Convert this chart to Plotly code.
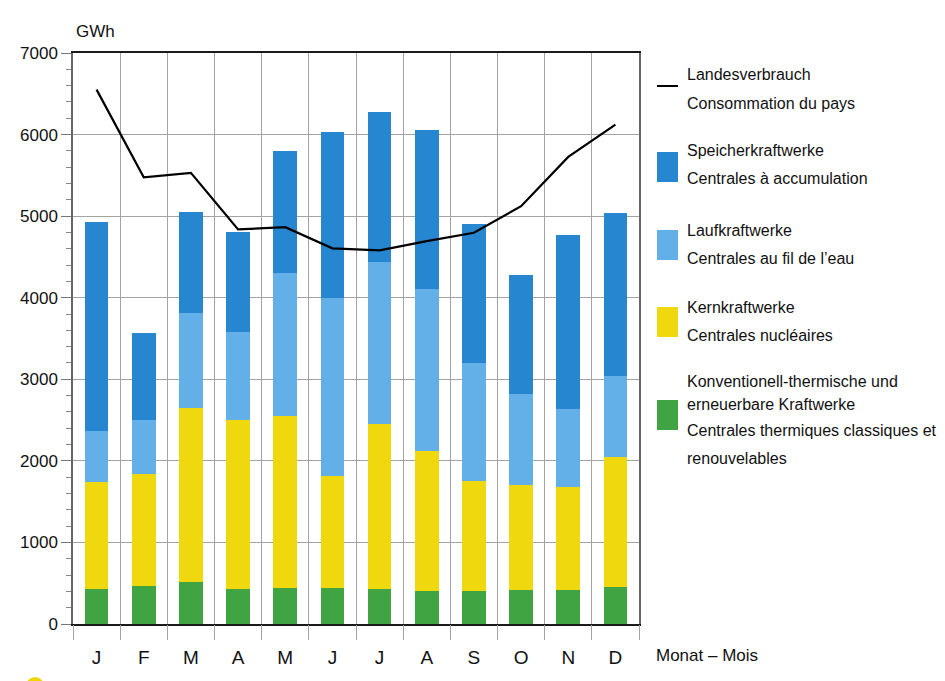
import plotly.graph_objects as go

# ---------------- data ----------------
months = ["J", "F", "M", "A", "M", "J", "J", "A", "S", "O", "N", "D"]
thermal = [431, 463, 520, 431, 447, 443, 431, 410, 410, 422, 422, 459]
nuclear = [1305, 1375, 2134, 2068, 2105, 1371, 2019, 1714, 1342, 1285, 1252, 1583]
run_of_river = [624, 669, 1163, 1081, 1750, 2179, 1983, 1982, 1453, 1114, 967, 1000]
storage = [2571, 1057, 1236, 1228, 1498, 2039, 1848, 1947, 1701, 1453, 2123, 1991]
consumption = [6551, 5477, 5530, 4837, 4865, 4605, 4580, 4694, 4796, 5122, 5726, 6122]

y_ticks = [0, 1000, 2000, 3000, 4000, 5000, 6000, 7000]
y_unit = "GWh"
x_title = "Monat – Mois"

legend_consumption = ["Landesverbrauch", "Consommation du pays"]
legend_storage = ["Speicherkraftwerke", "Centrales à accumulation"]
legend_run = ["Laufkraftwerke", "Centrales au fil de l’eau"]
legend_nuclear = ["Kernkraftwerke", "Centrales nucléaires"]
legend_thermal = ["Konventionell-thermische und", "erneuerbare Kraftwerke",
                  "Centrales thermiques classiques et", "renouvelables"]

# ---------------- style ----------------
C_STORAGE = "#2686cf"
C_RUN = "#62b0e7"
C_NUCLEAR = "#f0d80f"
C_THERMAL = "#41a443"
C_GRID = "#a3a3a3"
FONT = "Liberation Sans, Arial, sans-serif"
FS = 16

W, H = 945, 681
ML, MR, MT, MB = 73, 306, 53, 57
PW, PH = W - ML - MR, H - MT - MB


def px(x):
    return (x - ML) / PW


def py(y):
    return (H - MB - y) / PH


xs = list(range(len(months)))

fig = go.Figure()
for name, vals, col in [("thermal", thermal, C_THERMAL),
                        ("nuclear", nuclear, C_NUCLEAR),
                        ("run", run_of_river, C_RUN),
                        ("storage", storage, C_STORAGE)]:
    fig.add_trace(go.Bar(x=xs, y=vals, name=name, marker=dict(color=col, line_width=0),
                         width=0.5, showlegend=False))

fig.add_trace(go.Scatter(x=xs, y=consumption, mode="lines",
                         line=dict(color="black", width=2.2), showlegend=False))

# helper trace for the boundary axis
fig.add_trace(go.Scatter(x=[-0.5, 11.5], y=[0, 0], xaxis="x2", mode="lines",
                         line=dict(width=0, color="rgba(0,0,0,0)"),
                         hoverinfo="skip", showlegend=False))

boundaries = [i - 0.5 for i in range(len(months) + 1)]

fig.update_layout(
    width=W, height=H,
    margin=dict(l=ML, r=MR, t=MT, b=MB),
    paper_bgcolor="white", plot_bgcolor="white",
    barmode="stack",
    font=dict(family=FONT, size=FS, color="#111"),
    xaxis=dict(range=[-0.5, 11.5], tickvals=xs, ticktext=months,
               showgrid=False, zeroline=False,
               ticks="outside", ticklen=15, tickcolor="rgba(0,0,0,0)",
               showline=True, linecolor="#1a1a1a", linewidth=2, mirror=True,
               tickfont=dict(size=19)),
    xaxis2=dict(range=[-0.5, 11.5], overlaying="x", side="bottom", anchor="y",
                tickvals=boundaries, showticklabels=False,
                showgrid=True, gridcolor=C_GRID, gridwidth=1.3,
                ticks="outside", ticklen=15, tickcolor=C_GRID, tickwidth=1.3,
                zeroline=False, showline=False),
    yaxis=dict(range=[0, 7000], tickvals=y_ticks, showgrid=True,
               gridcolor=C_GRID, gridwidth=1.3, zeroline=False,
               ticks="outside", ticklen=10, tickcolor="#777", tickwidth=1.2,
               showline=True, linecolor="#666", linewidth=1.5, mirror=True,
               minor=dict(dtick=200, ticks="outside", ticklen=5,
                          tickcolor="#888", showgrid=False),
               tickfont=dict(size=17)),
)

annotations = []
shapes = []

annotations.append(dict(text=y_unit, xref="paper", yref="paper", x=px(74), y=py(31),
                        xanchor="left", yanchor="middle", showarrow=False,
                        font=dict(size=17)))
annotations.append(dict(text=x_title, xref="paper", yref="paper", x=px(654), y=py(655),
                        xanchor="left", yanchor="middle", showarrow=False,
                        font=dict(size=17)))

TX = 685
legend_rows = [
    (legend_consumption, [73, 102.5]),
    (legend_storage, [149, 177.7]),
    (legend_run, [229, 257.7]),
    (legend_nuclear, [306.7, 334]),
    (legend_thermal, [380, 403, 429, 457.7]),
]
for lines, ys in legend_rows:
    for t, yy in zip(lines, ys):
        annotations.append(dict(text=t, xref="paper", yref="paper", x=px(TX), y=py(yy + 1),
                                xanchor="left", yanchor="middle", showarrow=False,
                                font=dict(size=FS)))

# legend swatches
shapes.append(dict(type="line", xref="paper", yref="paper",
                   x0=px(657), x1=px(678), y0=py(86), y1=py(86),
                   line=dict(color="black", width=2)))
for col, (y0, y1) in [(C_STORAGE, (152, 182)), (C_RUN, (230, 260)),
                      (C_NUCLEAR, (307, 337)), (C_THERMAL, (400, 430))]:
    shapes.append(dict(type="rect", xref="paper", yref="paper",
                       x0=px(657), x1=px(678), y0=py(y1), y1=py(y0),
                       fillcolor=col, line_width=0))

# small yellow dot at bottom-left edge
shapes.append(dict(type="circle", xref="paper", yref="paper",
                   x0=px(26), x1=px(44), y0=py(695), y1=py(677),
                   fillcolor="#f2d400", line_width=0))

fig.update_layout(annotations=annotations, shapes=shapes)

fig.write_html("out.html", config={"displayModeBar": False},
               post_script="document.body.style.margin='0';document.body.style.overflow='hidden';")
